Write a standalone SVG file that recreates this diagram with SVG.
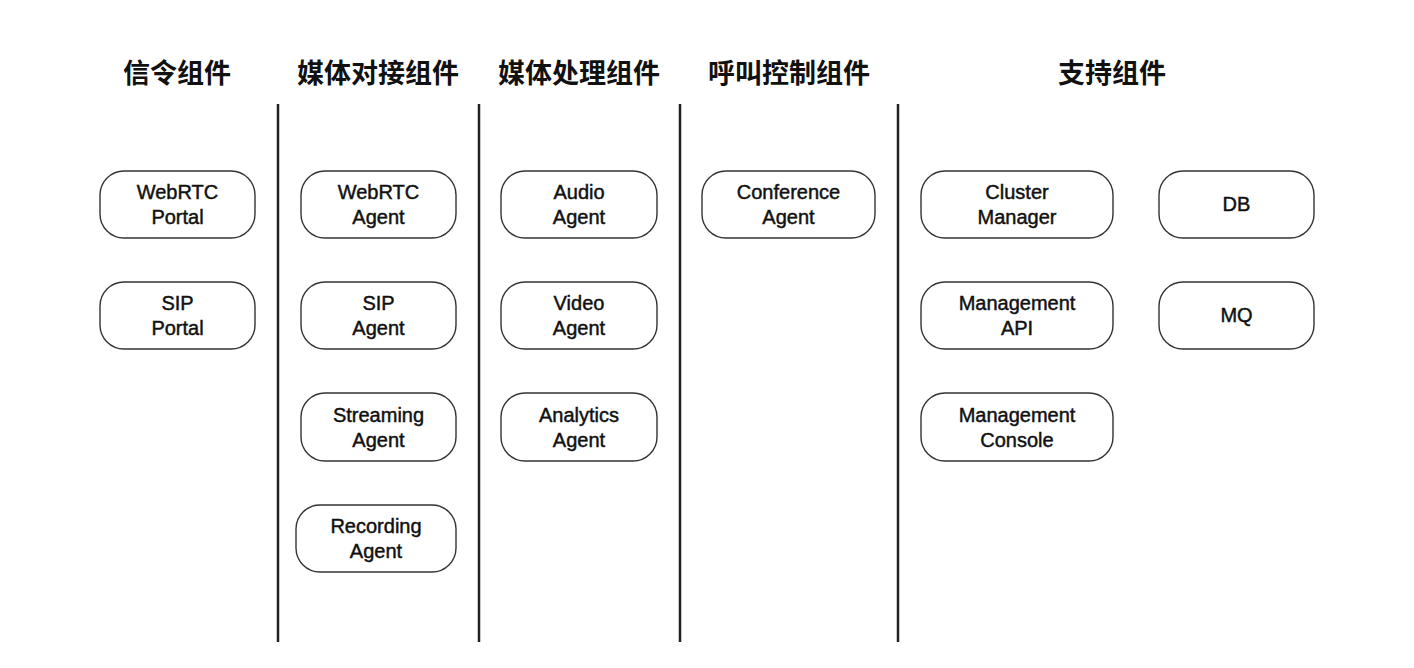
<svg xmlns="http://www.w3.org/2000/svg" width="1414" height="668" viewBox="0 0 1414 668">
<style>
.h{font-family:"Noto Sans CJK SC","Noto Sans",sans-serif;font-size:27px;font-weight:bold;fill:#111;text-anchor:middle}
.n rect{fill:#fff;stroke:#333;stroke-width:1.4}
.n text{font-family:"Liberation Sans",Arial,sans-serif;font-size:20px;fill:#111;stroke:#111;stroke-width:0.45;text-anchor:middle}
.sep{stroke:#222;stroke-width:2.5}
</style>
<rect width="1414" height="668" fill="#fff"/>
<g id="headers">
<text class="h" x="177" y="83">信令组件</text>
<text class="h" x="378" y="83">媒体对接组件</text>
<text class="h" x="579" y="83">媒体处理组件</text>
<text class="h" x="789" y="83">呼叫控制组件</text>
<text class="h" x="1112" y="83">支持组件</text>
</g>
<g id="separators">
<line class="sep" x1="278" y1="104" x2="278" y2="642"/>
<line class="sep" x1="479" y1="104" x2="479" y2="642"/>
<line class="sep" x1="680" y1="104" x2="680" y2="642"/>
<line class="sep" x1="898" y1="104" x2="898" y2="642"/>
</g>
<g id="connectors"></g>
<g id="webrtc-portal" class="n"><rect x="100" y="171" width="155" height="67" rx="24"/><text x="177.5" y="199">WebRTC</text><text x="177.5" y="224">Portal</text></g>
<g id="sip-portal" class="n"><rect x="100" y="282" width="155" height="67" rx="24"/><text x="177.5" y="310">SIP</text><text x="177.5" y="335">Portal</text></g>
<g id="webrtc-agent" class="n"><rect x="301" y="171" width="155" height="67" rx="24"/><text x="378.5" y="199">WebRTC</text><text x="378.5" y="224">Agent</text></g>
<g id="sip-agent" class="n"><rect x="301" y="282" width="155" height="67" rx="24"/><text x="378.5" y="310">SIP</text><text x="378.5" y="335">Agent</text></g>
<g id="streaming-agent" class="n"><rect x="301" y="393" width="155" height="68" rx="24"/><text x="378.5" y="422">Streaming</text><text x="378.5" y="447">Agent</text></g>
<g id="recording-agent" class="n"><rect x="296" y="505" width="160" height="67" rx="24"/><text x="376" y="533">Recording</text><text x="376" y="558">Agent</text></g>
<g id="audio-agent" class="n"><rect x="501" y="171" width="156" height="67" rx="24"/><text x="579" y="199">Audio</text><text x="579" y="224">Agent</text></g>
<g id="video-agent" class="n"><rect x="501" y="282" width="156" height="67" rx="24"/><text x="579" y="310">Video</text><text x="579" y="335">Agent</text></g>
<g id="analytics-agent" class="n"><rect x="501" y="393" width="156" height="68" rx="24"/><text x="579" y="422">Analytics</text><text x="579" y="447">Agent</text></g>
<g id="conference-agent" class="n"><rect x="702" y="171" width="173" height="67" rx="24"/><text x="788.5" y="199">Conference</text><text x="788.5" y="224">Agent</text></g>
<g id="cluster-manager" class="n"><rect x="921" y="171" width="192" height="67" rx="24"/><text x="1017" y="199">Cluster</text><text x="1017" y="224">Manager</text></g>
<g id="management-api" class="n"><rect x="921" y="282" width="192" height="67" rx="24"/><text x="1017" y="310">Management</text><text x="1017" y="335">API</text></g>
<g id="management-console" class="n"><rect x="921" y="393" width="192" height="68" rx="24"/><text x="1017" y="422">Management</text><text x="1017" y="447">Console</text></g>
<g id="db" class="n"><rect x="1159" y="171" width="155" height="67" rx="24"/><text x="1236.5" y="211">DB</text></g>
<g id="mq" class="n"><rect x="1159" y="282" width="155" height="67" rx="24"/><text x="1236.5" y="322">MQ</text></g>
</svg>
